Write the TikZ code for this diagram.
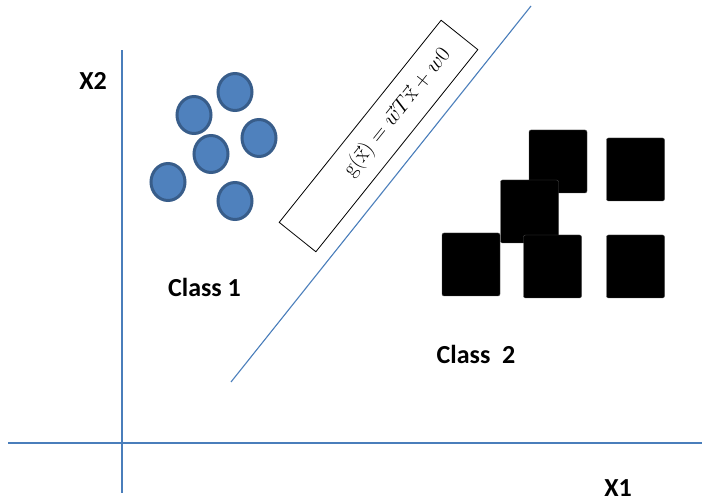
\RequirePackage{fix-cm}
\documentclass[tikz,border=0pt]{standalone}
\usepackage{fontspec}
\newfontfamily\labelfont{Carlito}
\usetikzlibrary{shapes.geometric,calc}

\definecolor{axisblue}{RGB}{74,126,187}
\definecolor{dotfill}{RGB}{79,129,189}
\definecolor{dotdraw}{RGB}{56,93,138}

\begin{document}
\begin{tikzpicture}[
        x=1pt, y=-1pt,
        axis_line/.style={draw=axisblue, line width=1.3pt},
        class_dot/.style={
            ellipse,
            draw=dotdraw,
            fill=dotfill,
            line width=3pt,
            minimum width=34pt,
            minimum height=37pt,
            inner sep=0pt
        },
        class_square/.style={
            rectangle,
            fill=black,
            draw=black!70,
            line width=0.4pt,
            rounded corners=2pt,
            minimum width=58pt,
            minimum height=63pt,
            inner sep=0pt
        },
        axis_label/.style={anchor=base, inner sep=0pt, font=\labelfont\bfseries\fontsize{26}{30}\selectfont},
        formula_box/.style={
            rectangle,
            draw=black,
            line width=0.8pt,
            minimum width=259pt,
            minimum height=47pt,
            inner sep=0pt
        },
        formula_text/.style={inner sep=0pt, font=\fontsize{22}{26}\selectfont}
    ]

    \useasboundingbox (0,0) rectangle (705,502);

    % Axes
    \coordinate (x_left) at (8,443);
    \coordinate (x_right) at (702,443);
    \coordinate (y_top) at (122,50);
    \coordinate (y_bottom) at (122,493);
    \draw[axis_line] (x_left) -- (x_right);
    \draw[axis_line] (y_bottom) -- (y_top);

    \node[axis_label] (X2) at (93,90) {X2};
    \node[axis_label] (X1) at (618,497) {X1};

    % Class 1 (circles)
    \node[class_dot] (c1) at (235,92) {};
    \node[class_dot] (c2) at (194,115) {};
    \node[class_dot] (c3) at (259,138) {};
    \node[class_dot] (c4) at (211,154) {};
    \node[class_dot] (c5) at (168,182) {};
    \node[class_dot] (c6) at (235,201) {};

    % Class 2 (squares)
    \node[class_square] (s1) at (558,161.5) {};
    \node[class_square] (s2) at (635.5,169.5) {};
    \node[class_square] (s3) at (529.5,211.5) {};
    \node[class_square] (s4) at (471,264.5) {};
    \node[class_square] (s5) at (552.5,266.5) {};
    \node[class_square] (s6) at (635.5,266.5) {};

    \node[axis_label] (class1) at (204.5,297) {Class 1};
    \node[axis_label] (class2) at (476,364) {Class \ 2};

    % Decision boundary
    \coordinate (sep_low) at (231,382);
    \coordinate (sep_high) at (531,6);
    \draw[axis_line, line width=1.1pt] (sep_low) -- (sep_high);

    \node[formula_box, rotate=51.3] (formula) at (378.5,136) {};
    \node[formula_text, rotate=51.3] (formula_eq) at ($(formula.center)!30pt!(formula.east)$)
        {$\mathrm{g}(\vec{\mathrm{x}}) = \vec{w}T\vec{\mathrm{x}} + w0$};

\end{tikzpicture}
\end{document}
